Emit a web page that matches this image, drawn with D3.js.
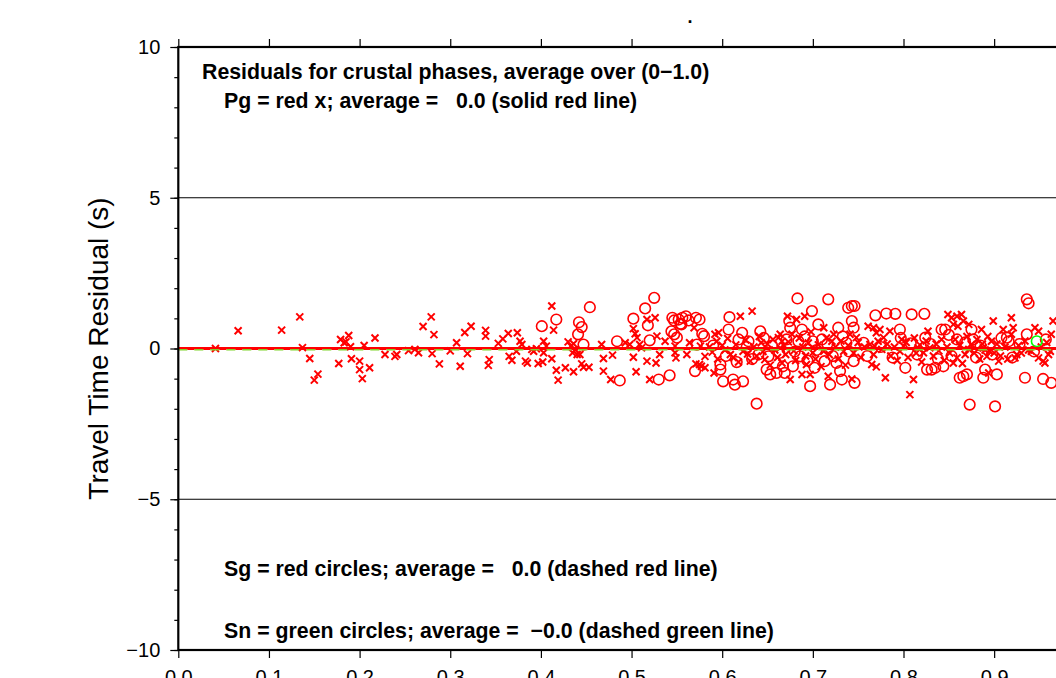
<!DOCTYPE html>
<html>
<head>
<meta charset="utf-8">
<script src="https://cdn.jsdelivr.net/npm/d3@7"></script>
<style>
  body { margin: 0; background: #fff; }
  svg { display: block; font-family: "Liberation Sans", Arial, Helvetica, sans-serif; }
  .note { font-weight: bold; font-size: 21.3px; white-space: pre; }
</style>
</head>
<body>
<div id="chart"></div>
<script>
// distance (fraction) vs travel time residual (s)
var pg = [[0.041,0.00],[0.066,0.59],[0.114,0.61],[0.134,1.05],[0.137,0.03],[0.145,-0.33],[0.150,-1.05],[0.154,-0.85],[0.177,-0.50],[0.179,0.30],[0.183,0.19],[0.185,0.22],[0.188,0.43],[0.190,0.06],[0.191,-0.34],[0.200,-0.42],[0.200,-0.70],[0.203,-1.00],[0.205,0.10],[0.211,-0.64],[0.217,0.35],[0.228,-0.20],[0.239,-0.26],[0.241,-0.20],[0.254,-0.07],[0.261,-0.03],[0.265,-0.14],[0.270,0.73],[0.279,1.05],[0.280,-0.17],[0.282,0.46],[0.288,-0.51],[0.300,-0.08],[0.307,0.19],[0.311,-0.59],[0.316,0.53],[0.319,-0.17],[0.323,0.74],[0.339,0.60],[0.339,0.41],[0.343,-0.37],[0.342,-0.56],[0.353,0.17],[0.358,0.32],[0.364,0.50],[0.365,-0.26],[0.368,-0.39],[0.374,0.52],[0.377,0.24],[0.379,0.13],[0.373,-0.09],[0.383,-0.42],[0.385,-0.48],[0.390,-0.03],[0.392,-0.09],[0.395,-0.01],[0.397,-0.50],[0.402,-0.45],[0.403,0.24],[0.403,-0.14],[0.406,0.08],[0.412,1.41],[0.414,0.61],[0.412,-0.34],[0.417,-0.72],[0.419,-1.05],
  [0.427,-0.64],[0.430,0.22],[0.433,0.08],[0.436,0.16],[0.438,-0.03],[0.435,-0.14],[0.440,-0.20],[0.436,-0.77],[0.443,-0.20],[0.445,-0.51],[0.447,-0.62],[0.453,-0.62],[0.467,0.13],[0.469,-0.33],[0.469,-0.75],[0.477,-1.03],[0.479,-0.22],[0.493,0.19],[0.498,0.13],[0.502,0.66],[0.504,0.49],[0.506,0.36],[0.502,-0.29],[0.505,-0.77],[0.509,0.13],[0.511,0.02],[0.517,0.96],[0.517,-0.42],[0.520,-1.03],[0.526,1.02],[0.527,-0.48],[0.528,0.41],[0.531,-0.20],[0.537,0.24],[0.548,0.08],[0.548,-0.14],[0.549,-0.31],[0.561,-0.20],[0.564,0.19],[0.569,0.69],[0.571,-0.51],[0.575,-0.53],[0.581,-0.64],[0.576,0.08],
  [0.581,-0.26],[0.577,-0.59],[0.591,-0.81],[0.592,0.47],[0.596,0.52],[0.594,0.24],[0.609,-0.20],[0.620,1.07],[0.623,-0.09],[0.631,-0.42],[0.633,1.24],[0.643,0.19],[0.647,-0.37],[0.662,0.36],[0.664,0.47],[0.666,0.24],[0.664,0.02],[0.666,-0.48],[0.672,1.07],[0.677,0.47],[0.675,-1.03],[0.682,0.96],[0.688,-0.86],[0.691,1.07],[0.693,-0.53],[0.700,-0.14],[0.697,-0.86],[0.712,0.69],[0.712,-0.09],[0.717,-0.92],[0.721,0.24],[0.723,0.47],[0.734,-0.09],[0.741,0.47],[0.748,0.36],
  [0.743,-1.01],[0.761,0.74],[0.767,0.69],[0.770,0.52],[0.774,0.63],[0.778,0.36],[0.785,0.57],[0.763,0.13],[0.768,0.08],[0.772,0.24],[0.776,-0.03],[0.767,-0.20],[0.765,-0.53],[0.770,-0.61],[0.780,-0.97],[0.798,0.30],[0.796,-0.09],[0.800,0.08],[0.807,-1.53],[0.811,-1.03],[0.816,0.02],[0.827,0.57],[0.829,0.02],[0.822,-0.14],[0.849,1.13],[0.853,1.02],[0.859,1.07],[0.864,1.13],[0.855,0.80],[0.860,0.74],[0.866,0.91],[0.872,0.80],[0.855,-0.48],[0.859,-0.31],[0.868,-0.20],[0.872,-0.03],[0.875,0.13],[0.886,0.63],[0.888,0.02],[0.892,-0.26],[0.895,-0.09],[0.897,0.24],[0.894,-0.81],[0.899,0.91],[0.905,-0.42],[0.910,0.63],[0.919,1.02],[0.921,0.69],[0.919,0.47],[0.923,-0.31],[0.925,-0.20],[0.945,0.69],[0.949,0.57],[0.941,-0.09],[0.949,-0.31],[0.954,-0.42],[0.956,-0.48],[0.965,0.91],[0.963,0.47],[0.962,-0.09],
  [0.586,0.05],[0.589,-0.12],[0.595,-0.35],[0.600,0.10],[0.603,-0.05],[0.606,0.33],[0.612,-0.30],[0.615,0.12],[0.618,-0.45],[0.626,0.28],[0.628,-0.18],[0.635,0.05],[0.638,-0.25],[0.641,0.40],[0.645,-0.10],[0.650,0.15],[0.653,-0.55],[0.656,0.30],[0.658,-0.05],[0.661,-0.30],[0.668,0.10],[0.670,-0.20],[0.673,0.22],[0.679,-0.08],[0.681,-0.40],[0.685,0.35],[0.689,0.05],[0.692,-0.25],[0.695,0.18],[0.698,0.55],[0.703,-0.35],[0.706,0.12],[0.709,-0.60],[0.715,0.35],[0.718,-0.20],[0.725,0.05],[0.728,-0.35],[0.731,0.25],[0.736,-0.55],[0.739,0.10],[0.745,-0.15],[0.750,0.20],
  [0.753,-0.30],[0.757,0.05],[0.782,0.15],[0.786,-0.25],[0.790,0.05],[0.793,-0.40],[0.803,0.20],[0.805,-0.30],[0.812,0.35],[0.814,-0.15],[0.818,0.12],[0.820,-0.45],[0.825,0.25],[0.833,-0.25],[0.836,0.15],[0.839,-0.08],[0.842,0.30],[0.845,-0.40],[0.848,0.05],[0.851,-0.15],[0.857,0.30],[0.862,0.10],[0.865,-0.50],[0.870,0.40],[0.878,-0.15],[0.881,0.30],[0.884,-0.35],[0.887,0.15],[0.890,-0.05],[0.893,0.40],[0.900,-0.15],[0.903,0.15],[0.907,-0.25],[0.912,0.05],[0.915,-0.35],[0.927,0.10],[0.930,-0.15],[0.934,0.25],[0.938,-0.05],[0.952,0.05],[0.958,0.20],[0.960,-0.20]];

var sg = [[0.401,0.74],[0.417,0.96],[0.442,0.87],[0.445,0.71],[0.441,0.47],[0.447,0.13],[0.454,1.37],[0.484,0.24],[0.487,-1.06],[0.502,0.99],[0.515,1.33],[0.518,0.77],[0.520,0.27],[0.525,1.68],[0.530,-1.03],[0.542,-0.89],[0.545,1.02],[0.547,0.93],[0.552,0.96],[0.554,0.82],[0.544,0.57],[0.547,0.47],[0.550,0.36],[0.556,1.02],[0.560,1.07],[0.563,0.93],[0.555,0.80],[0.571,1.02],[0.575,0.96],[0.572,0.13],[0.570,-0.75],[0.578,0.49],[0.580,0.41],
  [0.598,-0.53],[0.598,-0.70],[0.601,-1.09],[0.608,1.04],[0.607,0.63],[0.612,-1.03],[0.614,-1.20],[0.618,0.30],[0.623,-1.09],[0.622,0.52],[0.629,0.24],[0.638,-1.83],[0.640,-0.20],[0.642,0.57],[0.649,-0.70],[0.651,-0.26],[0.653,-0.86],[0.660,-0.81],[0.667,-0.59],[0.669,-0.81],[0.674,0.91],[0.675,0.69],[0.678,-0.59],[0.683,1.66],[0.684,0.24],[0.688,0.63],[0.686,-0.26],[0.697,-1.25],[0.699,1.24],[0.700,0.24],[0.702,-0.64],[0.706,0.80],[0.710,0.30],[0.713,-0.42],[0.717,1.63],[0.719,-1.20],[0.726,-0.48],[0.730,-0.75],[0.728,0.69],[0.732,-1.03],[0.737,0.19],[0.739,1.35],[0.743,1.41],[0.746,1.41],[0.743,0.91],[0.745,-0.42],[0.745,0.69],[0.746,-1.14],
  [0.769,1.10],[0.781,1.16],[0.791,1.15],[0.809,1.13],[0.823,1.15],[0.756,0.19],[0.796,0.63],[0.802,-0.64],[0.808,0.17],[0.824,0.36],[0.826,-0.70],[0.831,-0.70],[0.835,-0.64],[0.842,0.63],[0.846,0.63],[0.844,-0.59],[0.859,0.30],[0.862,-0.97],[0.866,-0.92],[0.870,-0.86],[0.873,-1.86],[0.875,0.63],[0.877,0.30],[0.890,-0.70],[0.888,-0.97],[0.901,-1.92],[0.903,-0.86],[0.914,0.36],[0.916,0.24],[0.934,-0.97],[0.936,1.63],[0.938,1.50],[0.936,0.47],[0.954,-1.01],[0.963,-1.14],
  [0.590,0.10],[0.604,-0.25],[0.616,-0.45],[0.627,0.05],[0.633,-0.35],[0.646,0.35],[0.655,0.10],[0.663,-0.15],[0.671,0.30],[0.680,-0.10],[0.691,0.40],[0.694,-0.40],[0.704,-0.05],[0.716,0.15],[0.722,-0.25],[0.733,0.40],[0.740,-0.10],[0.760,-0.25],[0.775,0.05],[0.788,-0.30],[0.797,0.35],[0.815,-0.20],[0.830,0.15],[0.838,-0.35],[0.850,0.45],[0.853,-0.25],[0.868,0.20],[0.880,-0.30],[0.885,0.10],[0.898,-0.20],[0.908,0.35],[0.920,-0.30],[0.928,0.15],[0.944,-0.10],[0.957,0.30]];

var sn = [[0.947,0.24]];

var pgAvg = 0.0, sgAvg = 0.0, snAvg = -0.03;

var xTicks = [0, 0.1, 0.2, 0.3, 0.4, 0.5, 0.6, 0.7, 0.8, 0.9, 1.0];
var yTicks = [-10, -5, 0, 5, 10];
var yMinor = d3.range(-10, 11, 1);
var gridLines = [-5, 5];

var notes = [
    {x: 202, y: 78.5, t: "Residuals for crustal phases, average over (0\u22121.0)"},
    {x: 224, y: 108, t: "Pg = red x; average =   0.0 (solid red line)"},
    {x: 224, y: 575.5, t: "Sg = red circles; average =   0.0 (dashed red line)"},
    {x: 224, y: 637.5, t: "Sn = green circles; average =  \u22120.0 (dashed green line)"}
];

var width = 1056, height = 678;

var svg = d3.select("#chart").append("svg")
    .attr("width", width)
    .attr("height", height);

var x = d3.scaleLinear().domain([0, 1]).range([178.3, 1084.8]);
var y = d3.scaleLinear().domain([-10, 10]).range([650, 47]);

// grid lines at +-5
svg.selectAll(".grid").data(gridLines).enter().append("line")
    .attr("x1", x(0)).attr("x2", x(1))
    .attr("y1", function (d) { return y(d); })
    .attr("y2", function (d) { return y(d); })
    .attr("stroke", "#000").attr("stroke-width", 1);

// axes
var axL = svg.append("g").attr("transform", "translate(" + x(0) + ",0)")
    .call(d3.axisLeft(y).tickValues(yTicks).tickSize(8).tickPadding(10));
var axLm = svg.append("g").attr("transform", "translate(" + x(0) + ",0)")
    .call(d3.axisLeft(y).tickValues(yMinor).tickSize(4).tickFormat(""));
var axT = svg.append("g").attr("transform", "translate(0," + y(10) + ")")
    .call(d3.axisTop(x).tickValues(xTicks).tickSize(8).tickFormat(""));
var axB = svg.append("g").attr("transform", "translate(0," + y(-10) + ")")
    .call(d3.axisBottom(x).tickValues(xTicks).tickSize(8).tickPadding(12).tickFormat(d3.format(".1f")));

[axL, axLm, axT, axB].forEach(function (g) {
    g.select(".domain").remove();
    g.selectAll("line").attr("stroke-width", 1.2);
    g.selectAll("text").attr("font-size", 20).attr("font-family", "Liberation Sans, Arial, sans-serif").attr("fill", "#000");
});

// y title
svg.append("text")
    .attr("transform", "translate(108," + y(0) + ") rotate(-90)")
    .attr("text-anchor", "middle")
    .attr("font-size", 28)
    .text("Travel Time Residual (s)");

// title (cut off)
svg.append("text")
    .attr("x", 690).attr("y", 23)
    .attr("text-anchor", "middle")
    .attr("font-weight", "bold")
    .attr("font-size", 18)
    .text(".");

// points
var clip = svg.append("clipPath").attr("id", "clip").append("rect")
    .attr("x", x(0)).attr("y", y(10)).attr("width", x(1) - x(0)).attr("height", y(-10) - y(10));
var plot = svg.append("g").attr("clip-path", "url(#clip)");

plot.selectAll(".pg").data(pg).enter().append("path")
    .attr("class", "pg")
    .attr("transform", function (d) { return "translate(" + x(d[0]) + "," + y(d[1]) + ")"; })
    .attr("d", "M-3.5,-3.5L3.5,3.5M-3.5,3.5L3.5,-3.5")
    .attr("stroke", "#ff0000").attr("stroke-width", 2).attr("fill", "none");

plot.selectAll(".sg").data(sg).enter().append("circle")
    .attr("class", "sg")
    .attr("cx", function (d) { return x(d[0]); })
    .attr("cy", function (d) { return y(d[1]); })
    .attr("r", 5.3)
    .attr("stroke", "#ff0000").attr("stroke-width", 1.6).attr("fill", "none");

plot.selectAll(".sn").data(sn).enter().append("circle")
    .attr("class", "sn")
    .attr("cx", function (d) { return x(d[0]); })
    .attr("cy", function (d) { return y(d[1]); })
    .attr("r", 5.3)
    .attr("stroke", "#00ff00").attr("stroke-width", 1.6).attr("fill", "none");

// average lines
plot.append("line")
    .attr("x1", x(0)).attr("x2", x(1))
    .attr("y1", y(snAvg)).attr("y2", y(snAvg))
    .attr("stroke", "#7fd32a").attr("stroke-width", 2).attr("stroke-dasharray", "9,7");
plot.append("line")
    .attr("x1", x(0)).attr("x2", x(1))
    .attr("y1", y(sgAvg) + 0.5).attr("y2", y(sgAvg) + 0.5)
    .attr("stroke", "#ff0000").attr("stroke-width", 2).attr("stroke-dasharray", "7,9").attr("stroke-dashoffset", -9);
plot.append("line")
    .attr("x1", x(0)).attr("x2", x(1))
    .attr("y1", y(pgAvg) - 0.5).attr("y2", y(pgAvg) - 0.5)
    .attr("stroke", "#ff0000").attr("stroke-width", 2);

// frame
svg.append("rect")
    .attr("x", x(0)).attr("y", y(10))
    .attr("width", x(1) - x(0)).attr("height", y(-10) - y(10))
    .attr("fill", "none").attr("stroke", "#000").attr("stroke-width", 2.2);

// notes
svg.selectAll(".note").data(notes).enter().append("text")
    .attr("class", "note")
    .attr("x", function (d) { return d.x; })
    .attr("y", function (d) { return d.y; })
    .text(function (d) { return d.t; });
</script>
</body>
</html>
